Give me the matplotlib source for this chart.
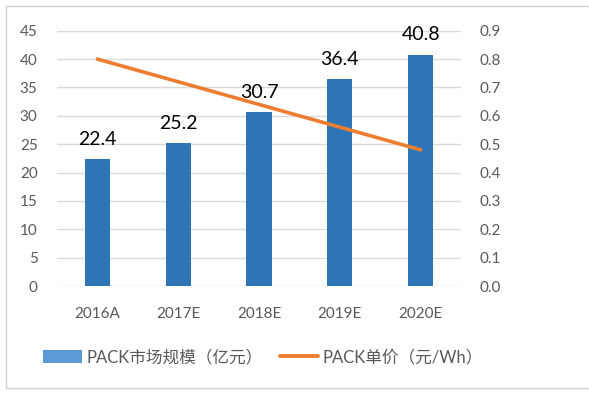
import matplotlib
matplotlib.use("Agg")
import matplotlib.pyplot as plt
from matplotlib.patches import Rectangle, Patch
from matplotlib.lines import Line2D

plt.rcParams['font.family'] = ['Lato', 'Noto Sans CJK SC', 'DejaVu Sans']

categories = ["2016A", "2017E", "2018E", "2019E", "2020E"]
market_size = [22.4, 25.2, 30.7, 36.4, 40.8]
unit_price = [0.80, 0.72, 0.64, 0.56, 0.48]
left_ticks = [0, 5, 10, 15, 20, 25, 30, 35, 40, 45]
right_ticks = [0.0, 0.1, 0.2, 0.3, 0.4, 0.5, 0.6, 0.7, 0.8, 0.9]
bar_label = "PACK市场规模（亿元）"
line_label = "PACK单价（元/Wh）"

bar_color = "#2E75B6"
legend_bar_color = "#5B9BD5"
line_color = "#ED7D31"
tick_color = "#595959"
grid_color = "#D9D9D9"

fig = plt.figure(figsize=(5.89, 3.95), dpi=100)
fig.patches.append(Rectangle((6/589, 1-388/395), 1.0, (388-6)/395, transform=fig.transFigure,
                             fill=False, edgecolor="#D0D0D0", linewidth=1.0))

ax = fig.add_axes([57/589, 1-286/395, (461-57)/589, (286-30.7)/395])
x = list(range(len(categories)))
bars = ax.bar(x, market_size, width=0.31, color=bar_color, zorder=2)
ax.set_ylim(0, 45)
ax.set_xlim(-0.5, len(categories)-0.5)
ax.set_yticks(left_ticks)
ax.set_yticklabels([str(t) for t in left_ticks])
ax.yaxis.grid(True, color=grid_color, linewidth=1.0, zorder=0)
ax.set_axisbelow(True)
for s in ax.spines.values():
    s.set_visible(False)
ax.tick_params(axis='both', length=0, labelsize=11, colors=tick_color)
ax.tick_params(axis='y', pad=14)
ax.tick_params(axis='x', pad=15)
ax.set_xticks(x)
ax.set_xticklabels(categories)

for xi, v in zip(x, market_size):
    ax.annotate(f"{v}", (xi, v), xytext=(0, 8), textcoords="offset points",
                ha="center", va="bottom", fontsize=14, color="black")

ax2 = ax.twinx()
ax2.plot(x, unit_price, color=line_color, linewidth=2.6, solid_capstyle="round", zorder=3)
ax2.set_ylim(0, 0.9)
ax2.set_yticks(right_ticks)
ax2.set_yticklabels([f"{t:.1f}" for t in right_ticks])
for s in ax2.spines.values():
    s.set_visible(False)
ax2.tick_params(axis='y', length=0, labelsize=11, colors=tick_color, pad=13)

handles = [Patch(facecolor=legend_bar_color, edgecolor="none"),
           Line2D([0], [0], color=line_color, linewidth=2.8, solid_capstyle="round")]
leg = fig.legend(handles, [bar_label, line_label], loc="center", bbox_to_anchor=(0.447, 1-357/395),
                 ncol=2, frameon=False, fontsize=12, handlelength=2.3, handleheight=0.8,
                 columnspacing=1.0, handletextpad=0.3)
for t in leg.get_texts():
    t.set_color(tick_color)

fig.savefig("out.png", dpi=100)
